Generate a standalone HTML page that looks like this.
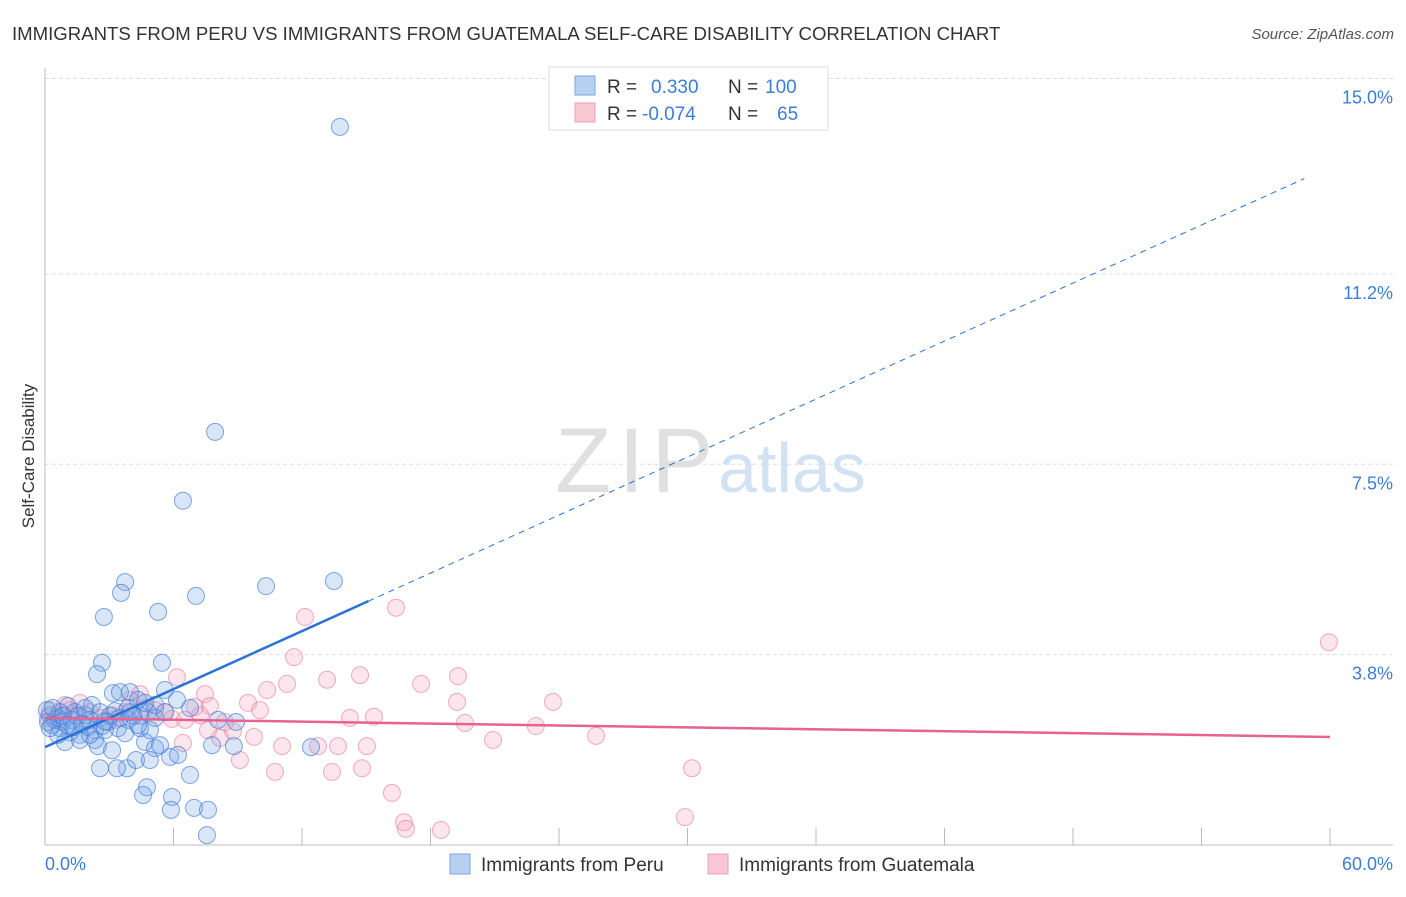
<!DOCTYPE html>
<html><head><meta charset="utf-8"><style>
body{margin:0;background:#fff;font-family:"Liberation Sans",sans-serif;}
svg text{font-family:"Liberation Sans",sans-serif;}
</style></head><body>
<svg id="chart" width="1406" height="892" xmlns="http://www.w3.org/2000/svg">
<text x="12" y="40" font-size="18.6" fill="#333">IMMIGRANTS FROM PERU VS IMMIGRANTS FROM GUATEMALA SELF-CARE DISABILITY CORRELATION CHART</text>
<text x="1394" y="39" font-size="15" fill="#555" font-style="italic" text-anchor="end">Source: ZipAtlas.com</text>
<g>
<text x="555" y="492" font-size="92" fill="#e0e0e0" font-family="Liberation Serif,serif" textLength="158">ZIP</text>
<text x="718" y="492" font-size="70" fill="#d3e1f4">atlas</text>
</g>
<g id="grid"></g>
<g id="axes"></g>
<g id="pts"></g>
<g id="trend"></g>
<text transform="translate(34,456) rotate(-90)" font-size="17" fill="#333" text-anchor="middle">Self-Care Disability</text>
<text x="45" y="870" font-size="18" fill="#3b7dd8">0.0%</text>
<text x="1393" y="870" font-size="18" fill="#3b7dd8" text-anchor="end">60.0%</text>
<g>
<rect x="549" y="67" width="279" height="63" fill="#fff" stroke="#ddd"/>
<rect x="575" y="76" width="20" height="19" fill="#b7d1f3" stroke="#7aa5e6"/>
<rect x="575" y="103" width="20" height="19" fill="#f9c6d4" stroke="#ef9fb6"/>
<text x="607" y="93" font-size="19" fill="#333">R = </text><text x="651" y="93" font-size="19" fill="#3b7dd8">0.330</text>
<text x="728" y="93" font-size="19" fill="#333">N = </text><text x="765" y="93" font-size="19" fill="#3b7dd8">100</text>
<text x="607" y="120" font-size="19" fill="#333">R = </text><text x="642" y="120" font-size="19" fill="#3b7dd8">-0.074</text>
<text x="728" y="120" font-size="19" fill="#333">N = </text><text x="777" y="120" font-size="19" fill="#3b7dd8">65</text>
</g>
<g>
<rect x="450" y="854" width="20" height="20" fill="#b7d1f3" stroke="#7aa5e6"/>
<text x="481" y="871" font-size="19" fill="#333">Immigrants from Peru</text>
<rect x="708" y="854" width="20" height="20" fill="#f9c6d4" stroke="#ef9fb6"/>
<text x="739" y="871" font-size="19" fill="#333">Immigrants from Guatemala</text>
</g>
</svg>
<script>
const yTicks=[3.8,7.5,11.2,15.0];
const yTickLabels=["3.8%","7.5%","11.2%","15.0%"];
const xTicks=[0,6,12,18,24,30,36,42,48,54,60];
const peruX=[13.77,7.94,6.44,3.74,3.55,2.75,5.28,7.05,10.32,13.49,2.66,2.43,5.46,5.60,6.16,6.77,8.08,3.17,3.50,3.97,4.34,4.81,5.14,4.44,3.88,3.41,2.94,2.33,2.01,1.63,1.17,0.70,0.47,0.23,0.33,0.14,0.70,1.07,1.40,1.87,2.19,2.57,3.03,0.93,1.63,2.47,3.13,4.67,5.14,5.37,5.84,6.21,7.80,8.82,8.92,12.42,2.57,3.83,3.36,4.25,4.90,6.77,4.76,4.58,5.93,5.88,6.96,7.61,7.56,0.61,0.79,1.26,1.54,2.10,2.80,3.74,4.44,4.90,3.27,3.97,4.34,5.60,5.14,4.67,3.88,1.87,2.33,0.61,0.23,0.09,0.37,0.84,1.07,1.35,1.73,2.10,2.66,3.50,4.11,2.8];
const peruY=[14.06,8.13,6.79,5.21,5.00,4.53,4.63,4.94,5.13,5.23,3.64,3.42,3.64,3.11,2.92,2.76,2.53,3.05,3.07,3.07,2.92,2.68,2.57,2.61,2.53,2.37,2.49,2.33,2.39,2.24,2.29,2.37,2.53,2.62,2.43,2.49,2.68,2.80,2.68,2.62,2.82,2.68,2.61,2.10,2.14,2.02,1.94,2.10,1.98,2.04,1.81,1.85,2.04,2.02,2.49,2.00,1.59,1.59,1.59,1.75,1.75,1.46,1.22,1.07,1.03,0.78,0.82,0.78,0.29,2.57,2.49,2.53,2.61,2.53,2.33,2.27,2.37,2.33,2.70,2.68,2.43,2.68,2.82,2.86,2.76,2.76,2.14,2.24,2.37,2.72,2.76,2.61,2.43,2.39,2.45,2.24,2.41,2.57,2.61,2.5];
const guatX=[59.95,16.39,12.14,11.63,14.71,19.28,13.17,17.56,11.30,10.37,9.48,10.04,19.24,23.72,15.36,14.24,19.61,22.92,25.73,20.92,15.03,13.68,12.75,11.07,9.76,8.78,8.17,7.61,6.44,9.10,10.74,13.40,14.80,30.21,16.20,16.76,16.85,18.49,29.88,6.16,7.47,7.00,5.93,5.60,4.44,4.67,3.74,3.13,2.57,1.63,1.17,0.70,0.23,0.47,2.10,3.97,5.14,7.70,8.40,7.24,3.27,1.40,0.14,0.93,6.54];
const guatY=[4.04,4.71,4.53,3.75,3.40,3.38,3.31,3.23,3.23,3.11,2.86,2.72,2.88,2.88,2.59,2.57,2.47,2.41,2.22,2.14,2.02,2.02,2.02,2.02,2.20,2.31,2.18,2.33,2.08,1.75,1.52,1.52,1.59,1.59,1.11,0.54,0.41,0.39,0.64,3.36,3.03,2.78,2.55,2.68,3.03,2.76,2.68,2.62,2.57,2.86,2.72,2.68,2.72,2.53,2.68,2.92,2.72,2.80,2.49,2.62,2.53,2.62,2.57,2.82,2.53];
const peruTrend=[2.0,0.188];
const guatTrend=[2.57,-0.0062];
const NS="http://www.w3.org/2000/svg";
const sx=v=>45+v/60*1285;
const sy=v=>850-v*51.43;
function mk(tag,attrs,parent){const e=document.createElementNS(NS,tag);for(const k in attrs)e.setAttribute(k,attrs[k]);document.getElementById(parent).appendChild(e);return e;}
yTicks.forEach((t,i)=>{
 const l=mk('line',{x1:45,x2:1393,y1:sy(t),y2:sy(t),stroke:'#ddd','stroke-dasharray':'4,3'},'grid');
 
 
 const tx=mk('text',{x:1393,y:sy(t)+25,'font-size':18,fill:'#3b7dd8','text-anchor':'end'},'grid');
 tx.textContent=yTickLabels[i];
 
 
});
const yl=mk('line',{x1:45,x2:45,y1:68,y2:845,stroke:'#bbb'},'axes');


const xl=mk('line',{x1:45,x2:1393,y1:845,y2:845,stroke:'#bbb'},'axes');


xTicks.forEach(t=>{
 const l=mk('line',{x1:sx(t),x2:sx(t),y1:828,y2:845,stroke:'#bbb'},'axes');
 
 
});
function pts(X,Y,fill,stroke,name){X.forEach((x,i)=>{
 const c=mk('circle',{cx:sx(x),cy:sy(Y[i]),r:8.5,fill:fill,stroke:stroke,'stroke-width':1},'pts');
 
 
});}
pts(guatX,guatY,'rgba(244,160,188,0.28)','rgba(232,120,155,0.6)','point-guatemala');
pts(peruX,peruY,'rgba(120,165,230,0.28)','rgba(60,120,215,0.65)','point-peru');
const f=(tr,x)=>tr[0]+tr[1]*x;
const t1=mk('line',{x1:sx(0),y1:sy(f(peruTrend,0)),x2:sx(15.1),y2:sy(f(peruTrend,15.1)),stroke:'#2b72d6','stroke-width':2.5},'trend');


const t2=mk('line',{x1:sx(15.1),y1:sy(f(peruTrend,15.1)),x2:sx(58.8),y2:sy(f(peruTrend,58.8)),stroke:'#2b72d6','stroke-width':1,'stroke-dasharray':'6,5'},'trend');


const t3=mk('line',{x1:sx(0),y1:sy(f(guatTrend,0)),x2:sx(60),y2:sy(f(guatTrend,60)),stroke:'#e8628f','stroke-width':2.5},'trend');


</script>
</body></html>
